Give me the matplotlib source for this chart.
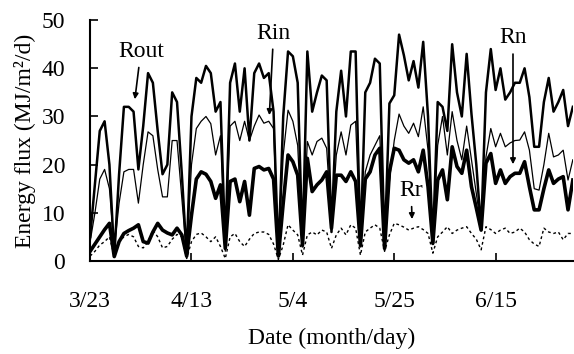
import numpy as np
import matplotlib
matplotlib.use("Agg")
import matplotlib.pyplot as plt

plt.rcParams['font.family'] = ['Liberation Serif', 'DejaVu Serif']
plt.rcParams['font.size'] = 17

# days after 3/23, one value per day
day = list(range(101))

r_in = [5, 16, 27, 29, 20, 1, 18, 32, 32, 31, 19, 28, 39, 37, 27, 18, 20, 35, 33, 18,
        1, 30, 38, 37, 40.5, 39, 31, 33, 3, 37, 41, 31, 40, 25, 39, 41, 38, 39, 31, 1,
        30, 43.5, 42.5, 37, 3, 43.5, 31, 35, 38.5, 37.5, 6, 31, 39.5, 30, 43.5, 43.5, 3, 35, 37, 42,
        41, 2.6, 32.7, 34.4, 47, 42.7, 37.5, 41.5, 36, 45.5, 30, 3.5, 33, 32, 27, 45, 35, 30, 43, 30.5,
        20, 6.4, 35, 44, 35.5, 40, 33.5, 35, 37, 37, 40, 34, 23.7, 23.7, 33, 38, 31, 33, 35.5, 28,
        32]

r_thin = [4, 10, 17, 19, 15, 2.6, 12, 18.5, 19, 19, 12, 20, 26.8, 26, 19, 13.3, 13.3, 25, 25, 13,
          1, 20, 27.5, 29, 30, 28.5, 22, 26, 2, 28, 29, 25, 29, 25, 28, 30.3, 28.6, 29, 27.5, 1,
          22, 31.3, 29, 24, 3.3, 24.8, 22, 24.8, 25.5, 23.4, 7.5, 22, 26.8, 22, 28.2, 29, 3.3, 18.5, 22, 24,
          26, 4, 16.5, 25, 30.5, 28, 26.5, 28.6, 25.8, 32, 23, 4.4, 24, 30, 22, 31, 25, 21, 28, 21,
          14, 7, 21.6, 27.5, 23.7, 26.5, 23.7, 24.5, 25, 25.1, 26.8, 23, 15, 14.7, 20, 26.5, 21.6, 22, 23, 16.8,
          21]

r_thick = [2, 3.5, 5, 6.5, 7.8, 0.9, 4, 5.7, 6.3, 6.8, 7.5, 4, 3.7, 6, 7.8, 6.4, 5.8, 5.4, 6.8, 5.4,
           1, 9.5, 17, 18.5, 18, 16.5, 13, 15.8, 2.6, 16.5, 17, 12.3, 16.5, 9.5, 19.2, 19.6, 18.9, 19.2, 17, 1,
           12, 22, 20.6, 17.8, 3.3, 21.3, 14.4, 15.8, 16.8, 18.5, 6.8, 17.8, 17.8, 16.5, 18.5, 16.5, 3.3, 17, 18.5, 22,
           23.4, 2.6, 18.5, 23.4, 23, 21, 20.3, 21, 18.5, 23, 15.4, 3.7, 16.8, 18.9, 12.7, 23.7, 19.6, 18.2, 23, 15.4,
           11, 6.4, 20.3, 22.3, 16.1, 18.9, 16.1, 17.5, 18.2, 18.2, 20.6, 15.4, 10.6, 10.6, 15, 18.9, 16.1, 17, 17.5, 10.6,
           16.8]

r_r = [1, 2, 3.3, 4, 5, 1, 4, 5, 5.5, 5, 3, 2.7, 4, 6.4, 5, 2.7, 3, 4.5, 5.5, 5,
       0.5, 4, 5.5, 5.8, 5, 4, 5, 3, 0.5, 5, 5.7, 4, 3, 4.5, 5.7, 6, 6, 5.5, 3.5, 0.3,
       3.3, 7.5, 6.4, 5.4, 1.2, 5.4, 6, 5.4, 6.4, 6, 2.6, 5.4, 6.8, 5.4, 7.5, 6.8, 1.2, 6, 6.8, 7.5,
       6.8, 2, 5.4, 7.8, 7.5, 7, 6.4, 6.8, 7.1, 6.5, 5.7, 1.6, 5, 6, 7.1, 5.7, 6.4, 6.8, 7.1, 5.7,
       4.5, 2.3, 7.1, 6.5, 5.7, 6.4, 6.8, 5.7, 6, 6.8, 6, 4.4, 3.5, 3, 6.8, 6, 5.7, 6, 4.4, 5.7,
       5.7]

tick_days = [0, 21, 42, 63, 84]
tick_labels = ['3/23', '4/13', '5/4', '5/25', '6/15']

fig = plt.figure(figsize=(5.74, 3.54), dpi=100)
ax = fig.add_axes([0.157, 0.263, 0.841, 0.68])

ax.plot(day, r_in, color='black', lw=1.8)
ax.plot(day, r_thin, color='black', lw=0.9)
ax.plot(day, r_thick, color='black', lw=2.6)
ax.plot(day, r_r, color='black', lw=1.0, linestyle=(0, (2, 2)))

# labels with arrows
arrow = dict(arrowstyle='-|>', color='black', lw=1.2, mutation_scale=8)
ax.annotate('Rout', xy=(9.2, 33), xytext=(10.5, 43.5), ha='center', va='center', arrowprops=arrow)
ax.annotate('Rin', xy=(37.1, 29.7), xytext=(38, 47.3), ha='center', va='center', arrowprops=arrow)
ax.annotate('Rn', xy=(87.6, 19.5), xytext=(87.6, 46.3), ha='center', va='center', arrowprops=arrow)
ax.annotate('Rr', xy=(66.7, 8.1), xytext=(66.5, 14.6), ha='center', va='center', arrowprops=arrow)

ax.set_xlim(0, 100)
ax.set_ylim(0, 50)
ax.set_xticks(tick_days)
ax.set_xticklabels(tick_labels)
ax.set_yticks(range(0, 51, 10))
ax.tick_params(axis='both', direction='in', length=6, width=1.2)
ax.tick_params(axis='y', pad=18)
ax.tick_params(axis='x', pad=22)

for s in ['top', 'right']:
    ax.spines[s].set_visible(False)
for s in ['left', 'bottom']:
    ax.spines[s].set_linewidth(1.5)

ax.set_xlabel('Date (month/day)', labelpad=11)
ax.set_ylabel('Energy flux (MJ/m²/d)', labelpad=4)

fig.savefig('out.png', dpi=100)
